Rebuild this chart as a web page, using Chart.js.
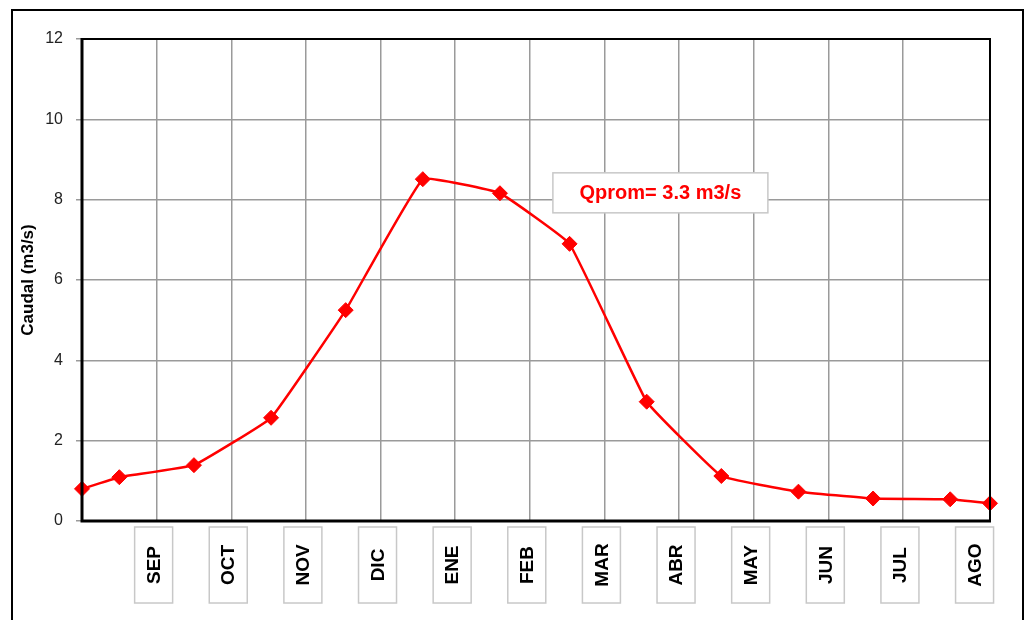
<!DOCTYPE html>
<html>
<head>
<meta charset="utf-8">
<script src="https://cdn.jsdelivr.net/npm/chart.js@4.4.1/dist/chart.umd.min.js"></script>
<style>
  html, body { margin: 0; padding: 0; background: #ffffff; }
  #wrap { width: 1028px; height: 620px; }
</style>
</head>
<body>
<div id="wrap"><canvas id="c" width="1028" height="620"></canvas></div>
<script>
// ---- data ----
const days = [0, 15, 45, 76, 106, 137, 168, 196, 227, 257, 288, 318, 349, 365];
const caudal = [0.80, 1.09, 1.39, 2.57, 5.25, 8.51, 8.16, 6.90, 2.97, 1.12, 0.73, 0.56, 0.54, 0.44];
const months = ['SEP', 'OCT', 'NOV', 'DIC', 'ENE', 'FEB', 'MAR', 'ABR', 'MAY', 'JUN', 'JUL', 'AGO'];
const monthDays = [30, 60, 90, 120, 150, 180, 210, 240, 270, 300, 330, 360];
const yTitle = 'Caudal (m3/s)';
const noteText = 'Qprom= 3.3 m3/s';
const noteAt = { x: 232.5, y: 8.17 };

const points = days.map((d, i) => ({ x: d, y: caudal[i] }));

const LABEL_FONT = 'bold 19px "Liberation Sans Narrow", "Arial Narrow", "Liberation Sans", Arial, sans-serif';

const decor = {
  id: 'decor',
  beforeDraw(chart) {
    const ctx = chart.ctx;
    ctx.save();
    ctx.fillStyle = '#ffffff';
    ctx.fillRect(0, 0, chart.width, chart.height);
    ctx.restore();
  },
  afterDatasetsDraw(chart) {
    const ctx = chart.ctx;
    const a = chart.chartArea;
    const xs = chart.scales.x, ys = chart.scales.y;
    ctx.save();
    // plot frame
    ctx.strokeStyle = '#000000';
    ctx.lineWidth = 2;
    ctx.strokeRect(a.left, a.top, a.right - a.left, a.bottom - a.top);
    ctx.lineWidth = 3;
    ctx.beginPath();
    ctx.moveTo(a.left, a.top - 1);
    ctx.lineTo(a.left, a.bottom);
    ctx.lineTo(a.right + 1, a.bottom);
    ctx.stroke();

    // note box
    const cx = xs.getPixelForValue(noteAt.x);
    const cy = ys.getPixelForValue(noteAt.y);
    const bw = 215, bh = 40;
    ctx.fillStyle = '#ffffff';
    ctx.fillRect(cx - bw / 2, cy - bh / 2, bw, bh);
    ctx.strokeStyle = '#c8c8c8';
    ctx.lineWidth = 1.5;
    ctx.strokeRect(cx - bw / 2, cy - bh / 2, bw, bh);
    ctx.fillStyle = '#ff0000';
    ctx.font = 'bold 20px "Liberation Sans Narrow", "Arial Narrow", "Liberation Sans", Arial, sans-serif';
    ctx.textAlign = 'center';
    ctx.textBaseline = 'middle';
    ctx.fillText(noteText, cx, cy + 1);

    // month label boxes
    months.forEach((m, i) => {
      const x = xs.getPixelForValue(monthDays[i]) - 3;
      const top = a.bottom + 6, bot = a.bottom + 82;
      const w = 38;
      ctx.fillStyle = '#ffffff';
      ctx.fillRect(x - w / 2, top, w, bot - top);
      ctx.strokeStyle = '#c8c8c8';
      ctx.lineWidth = 1.5;
      ctx.strokeRect(x - w / 2, top, w, bot - top);
      ctx.save();
      ctx.translate(x, (top + bot) / 2);
      ctx.rotate(-Math.PI / 2);
      ctx.fillStyle = '#000000';
      ctx.font = LABEL_FONT;
      ctx.textAlign = 'center';
      ctx.textBaseline = 'middle';
      ctx.fillText(m, 0, 1);
      ctx.restore();
    });

    // outer frame
    ctx.strokeStyle = '#000000';
    ctx.lineWidth = 2;
    ctx.strokeRect(12, 10, 1011, 640);
    ctx.restore();
  }
};

new Chart(document.getElementById('c'), {
  type: 'line',
  data: {
    datasets: [{
      data: points,
      borderColor: '#ff0000',
      backgroundColor: '#ff0000',
      borderWidth: 2.5,
      tension: 0.08,
      pointStyle: 'rectRot',
      pointRadius: 7.5,
      pointHoverRadius: 7.5,
      pointBackgroundColor: '#ff0000',
      pointBorderColor: '#ff0000',
      pointBorderWidth: 1,
      clip: false
    }]
  },
  options: {
    responsive: false,
    animation: false,
    events: [],
    layout: { padding: { top: 39, right: 38, bottom: 0, left: 0 } },
    plugins: { legend: { display: false }, tooltip: { enabled: false } },
    scales: {
      x: {
        type: 'linear',
        min: 0,
        max: 365,
        afterFit(s) { s.height = 99; },
        ticks: { stepSize: 30, display: false },
        grid: { color: '#9a9a9a', lineWidth: 1.5, drawTicks: false },
        border: { display: false }
      },
      y: {
        min: 0,
        max: 12,
        afterFit(s) { s.width = 82; },
        ticks: {
          stepSize: 2,
          padding: 13,
          color: '#222222',
          font: { family: '"Liberation Sans", Arial, sans-serif', size: 16 }
        },
        grid: { color: '#9a9a9a', lineWidth: 1.5, tickLength: 6, drawTicks: true },
        border: { display: false },
        title: {
          display: true,
          text: yTitle,
          color: '#000000',
          padding: { top: 18, bottom: 0 },
          font: { family: '"Liberation Sans", Arial, sans-serif', size: 17, weight: 'bold' }
        }
      }
    }
  },
  plugins: [decor]
});
</script>
</body>
</html>
